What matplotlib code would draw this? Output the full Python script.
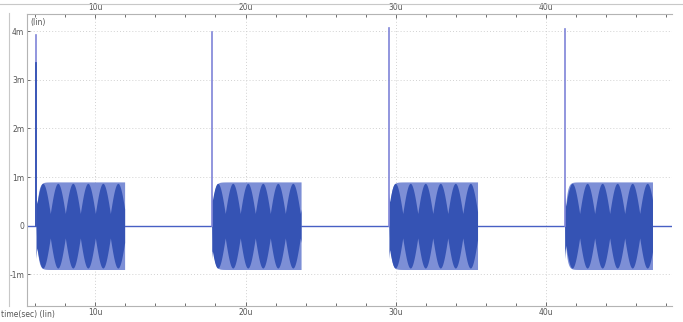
import numpy as np
import matplotlib.pyplot as plt
from matplotlib.lines import Line2D
from matplotlib.ticker import MultipleLocator, FixedLocator

# time in microseconds, current in milliamps
burst_start = [6.05, 17.75, 29.55, 41.25]
burst_stop = [11.95, 23.7, 35.45, 47.1]
spike_peak = [3.92, 3.97, 4.07, 4.04]
spike_inner = [3.35, 0.0, 0.0, 0.0]
lobe_phase = [0.45, 0.40, 0.42, 0.50]
lobe_period = 1.0
env_amp = 0.90
lobe_amp = 0.87
lobe_neck = 0.25

y_ticks = [-1, 0, 1, 2, 3, 4]
y_labels = ['-1m', '0', '1m', '2m', '3m', '4m']
x_ticks = [10, 20, 30, 40]
x_labels = ['10u', '20u', '30u', '40u']

light = '#7d8fd6'
dark = '#3553b4'
trace = '#4860c4'
spike = '#7f84d8'
grid_c = '#cccccc'
text_c = '#555555'


def main():
    fig = plt.figure(figsize=(6.83, 3.22), dpi=100)
    ax = fig.add_axes([27 / 683, 16 / 322, 645 / 683, 292 / 322])

    # flat trace at zero between bursts
    ax.plot([5.4, 48.4], [0, 0], color=trace, lw=1.0, zorder=2)

    for t0, t1, hp, hi, ph in zip(burst_start, burst_stop, spike_peak,
                                  spike_inner, lobe_phase):
        t = np.linspace(t0, t1, 1200)
        env = env_amp * (1 - np.exp(-(t - t0) / 0.12))
        ax.fill_between(t, -env, env, color=light, lw=0, zorder=3)
        lobes = lobe_neck + (lobe_amp - lobe_neck) * np.abs(
            np.cos(np.pi * (t - t0 - ph) / lobe_period))
        # dark band at the start while the oscillation settles
        lobes = np.maximum(lobes, env_amp * 0.75 * np.exp(-(t - t0) / 0.15))
        ax.fill_between(t, -lobes, lobes, color=dark, lw=0, zorder=4)
        ax.plot([t0, t0], [0, hp], color=spike, lw=1.2, zorder=5)
        if hi > 0:
            ax.plot([t0, t0], [0, hi], color=dark, lw=1.3, zorder=6)

    ax.set_xlim(5.45, 48.4)
    ax.set_ylim(-1.65, 4.35)

    ax.xaxis.set_major_locator(FixedLocator(x_ticks))
    ax.xaxis.set_minor_locator(MultipleLocator(2))
    ax.set_xticklabels(x_labels)
    ax.set_yticks(y_ticks)
    ax.set_yticklabels(y_labels)
    ax.tick_params(axis='x', which='both', direction='in', top=True,
                   labeltop=True, labelsize=5.5, colors=text_c, pad=1.5,
                   length=3, width=0.6)
    ax.tick_params(axis='x', which='minor', length=2)
    ax.tick_params(axis='y', direction='in', labelsize=5.5, colors=text_c,
                   pad=2, length=2, width=0.6)

    ax.grid(True, which='major', color=grid_c, ls=(0, (1.2, 2.5)), lw=0.6)
    ax.set_axisbelow(True)
    for side in ['top', 'bottom', 'left']:
        ax.spines[side].set_color('#b4b4b4')
        ax.spines[side].set_linewidth(0.8)
    ax.spines['right'].set_visible(False)

    ax.text(0.006, 0.985, '(lin)', transform=ax.transAxes, fontsize=5.5,
            color=text_c, va='top', ha='left')
    fig.text(0.002, 0.008, 'time(sec) (lin)', fontsize=5.5, color=text_c,
             va='bottom', ha='left')

    # outer window frame
    fig.add_artist(Line2D([0, 1], [1 - 4 / 322, 1 - 4 / 322],
                          transform=fig.transFigure, color='#c8c8c8', lw=0.8))
    fig.add_artist(Line2D([9 / 683, 9 / 683], [16 / 322, 1 - 13 / 322],
                          transform=fig.transFigure, color='#c8c8c8', lw=0.8))

    fig.savefig('out.png', dpi=100)


if __name__ == '__main__':
    main()
